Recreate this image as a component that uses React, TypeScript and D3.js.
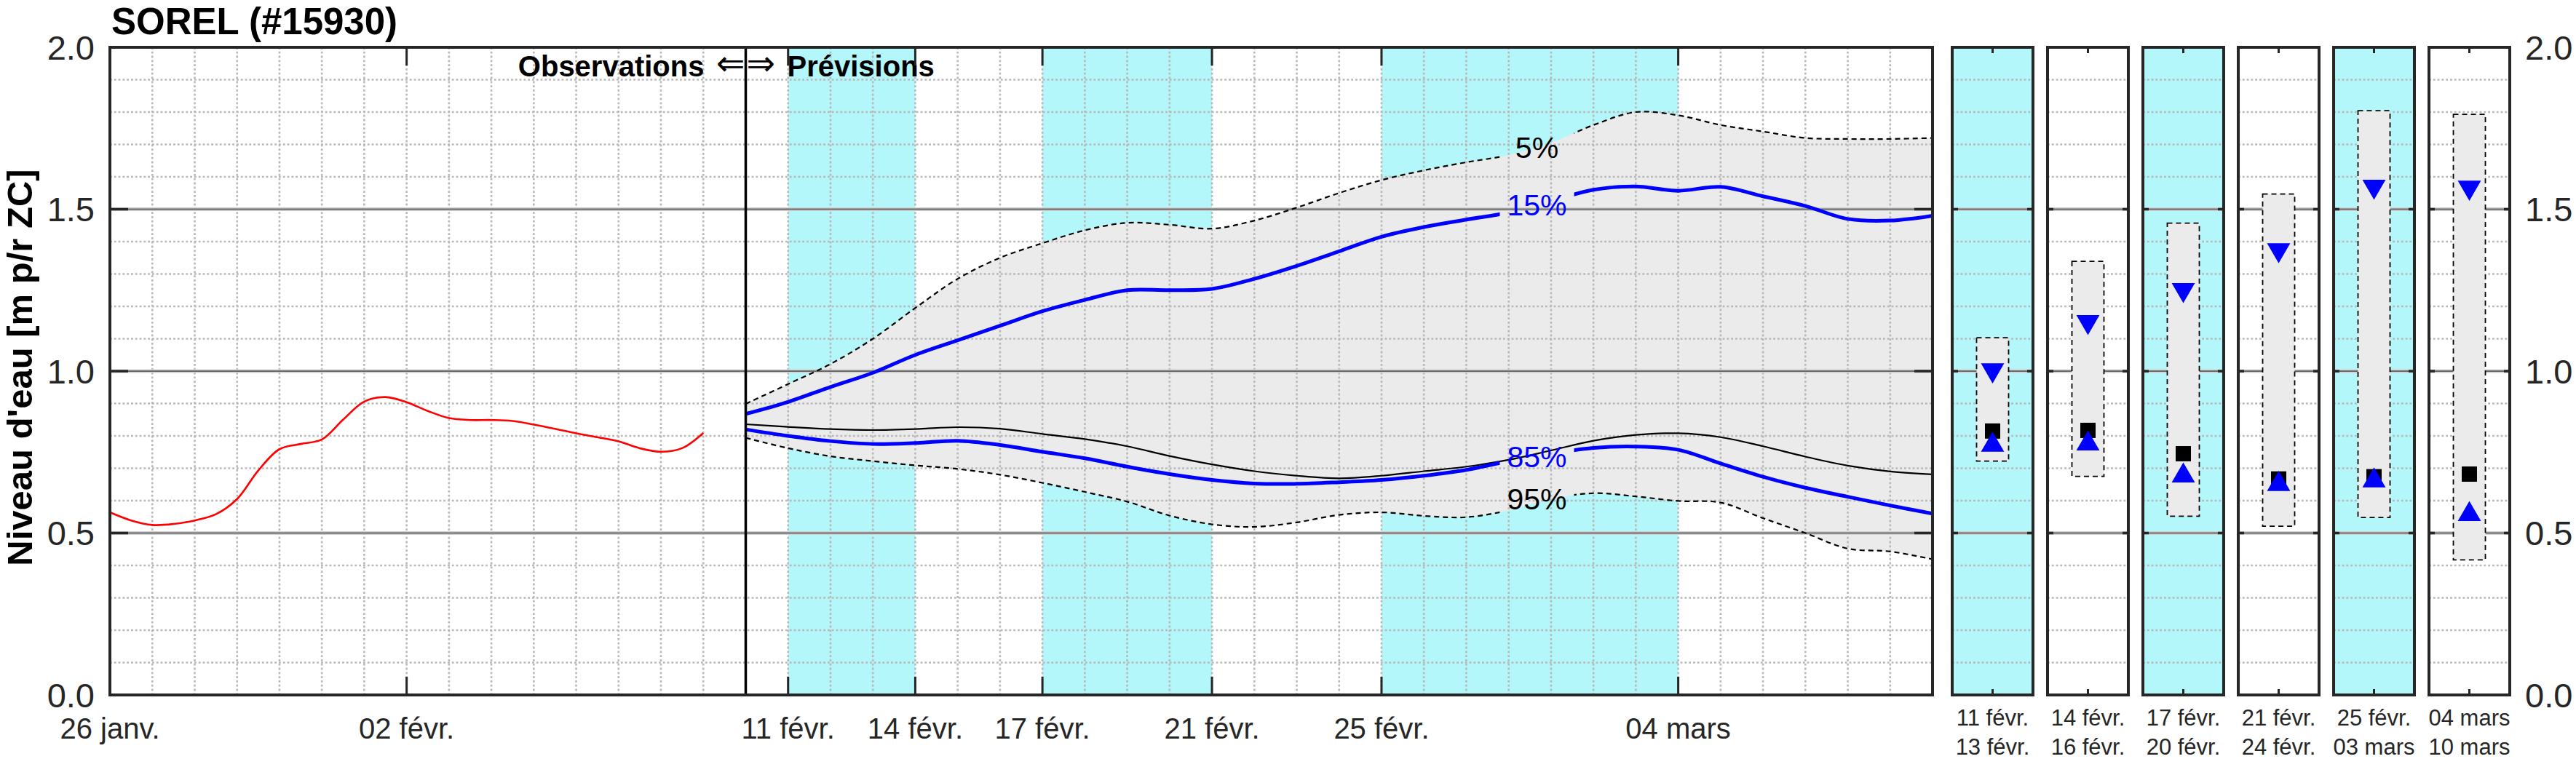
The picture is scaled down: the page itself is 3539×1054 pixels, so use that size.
import React from "react";
import * as d3 from "d3";

// ── Data ──────────────────────────────────────────────────────────────────────

const TITLE = "SOREL (#15930)";
const Y_LABEL = "Niveau d'eau [m p/r ZC]";

const utc = (m: number, d: number, h = 0) => new Date(Date.UTC(2026, m - 1, d, h));

const X_START = utc(1, 26);
const X_END = utc(3, 10);
const SPLIT_DATE = utc(2, 10);

// observed level, one value every 12 h from 26 janv. 00h
const OBS_START = utc(1, 26);
const obsLevels = [
  0.564, 0.539, 0.525, 0.528, 0.539, 0.558, 0.605, 0.693, 0.759, 0.775,
  0.789, 0.85, 0.906, 0.92, 0.904, 0.877, 0.855, 0.849, 0.849, 0.846,
  0.835, 0.822, 0.808, 0.796, 0.783, 0.762, 0.751, 0.762, 0.809,
];

// forecast quantiles, one value per day from 10 févr.
const FC_START = utc(2, 10);
const q05 = [
  0.899, 0.96, 1.022, 1.1, 1.195, 1.285, 1.35, 1.395, 1.435, 1.458, 1.452, 1.44,
  1.465, 1.505, 1.55, 1.59, 1.62, 1.645, 1.667, 1.705, 1.76, 1.8, 1.79, 1.76,
  1.74, 1.72, 1.717, 1.717, 1.72,
];
const q15 = [
  0.868, 0.905, 0.951, 0.995, 1.05, 1.095, 1.14, 1.185, 1.22, 1.25, 1.25, 1.254,
  1.285, 1.325, 1.37, 1.415, 1.445, 1.468, 1.49, 1.525, 1.56, 1.57, 1.557,
  1.569, 1.54, 1.51, 1.47, 1.465, 1.48,
];
const q50 = [
  0.836, 0.828, 0.821, 0.818, 0.821, 0.827, 0.822, 0.806, 0.79, 0.768, 0.738,
  0.712, 0.691, 0.677, 0.669, 0.677, 0.691, 0.705, 0.726, 0.755, 0.785, 0.803,
  0.808, 0.796, 0.768, 0.736, 0.708, 0.69, 0.681,
];
const q85 = [
  0.82, 0.8, 0.784, 0.775, 0.778, 0.785, 0.772, 0.751, 0.731, 0.705, 0.682,
  0.664, 0.653, 0.652, 0.657, 0.664, 0.677, 0.695, 0.722, 0.745, 0.763, 0.767,
  0.757, 0.715, 0.674, 0.64, 0.612, 0.585, 0.56,
];
const q95 = [
  0.794, 0.762, 0.737, 0.722, 0.709, 0.698, 0.68, 0.655, 0.627, 0.597, 0.554,
  0.527, 0.519, 0.533, 0.556, 0.564, 0.553, 0.549, 0.57, 0.605, 0.623, 0.613,
  0.599, 0.594, 0.546, 0.5, 0.452, 0.443, 0.419,
];

const CURVE_LABEL_DATE = utc(2, 28, 16);

// shaded forecast periods (start, end)
const shadedStarts = [utc(2, 11), utc(2, 17), utc(2, 25)];
const shadedEnds = [utc(2, 14), utc(2, 21), utc(3, 4)];

const xTickDates = [
  utc(1, 26), utc(2, 2), utc(2, 11), utc(2, 14),
  utc(2, 17), utc(2, 21), utc(2, 25), utc(3, 4),
];
const xTickLabels = [
  "26 janv.", "02 févr.", "11 févr.", "14 févr.",
  "17 févr.", "21 févr.", "25 févr.", "04 mars",
];

const yTicks = [0, 0.5, 1, 1.5, 2];
const yTickLabels = ["0.0", "0.5", "1.0", "1.5", "2.0"];

// period summary panels
const periodStart = ["11 févr.", "14 févr.", "17 févr.", "21 févr.", "25 févr.", "04 mars"];
const periodEnd = ["13 févr.", "16 févr.", "20 févr.", "24 févr.", "03 mars", "10 mars"];
const periodShaded = [true, false, true, false, true, false];
const periodHigh = [1.103, 1.339, 1.457, 1.547, 1.804, 1.793];
const periodLow = [0.722, 0.675, 0.552, 0.521, 0.548, 0.417];
const period15 = [0.993, 1.142, 1.241, 1.364, 1.56, 1.557];
const period50 = [0.815, 0.817, 0.745, 0.667, 0.674, 0.682];
const period85 = [0.782, 0.786, 0.687, 0.661, 0.672, 0.568];

// ── Style ─────────────────────────────────────────────────────────────────────

const FONT = "'Liberation Sans', Arial, Helvetica, sans-serif";
const AXIS = "#262626";
const CYAN = "#b3f7fa";
const BAND = "#ebebeb";
const BLUE = "#0000ff";
const DOTS = "#b8b8b8";

const W = 3539;
const H = 1054;
const MAIN = { left: 151, right: 2655, top: 65, bottom: 955 };
const PANELS = { left: 2682, right: 3448 };

// ── Chart ─────────────────────────────────────────────────────────────────────

export default function App() {
  const x = d3.scaleUtc().domain([X_START, X_END]).range([MAIN.left, MAIN.right]);
  const y = d3.scaleLinear().domain([0, 2]).range([MAIN.bottom, MAIN.top]);

  const obsDates = obsLevels.map((_, i) => d3.utcHour.offset(OBS_START, i * 12));
  const fcDates = q05.map((_, i) => d3.utcDay.offset(FC_START, i));

  const curve = d3.curveCatmullRom.alpha(0.5);
  const line = d3
    .line<number>()
    .x((_, i) => x(fcDates[i]))
    .y((d) => y(d))
    .curve(curve);
  const obsLine = d3
    .line<number>()
    .x((_, i) => x(obsDates[i]))
    .y((d) => y(d))
    .curve(curve);
  const band = d3
    .area<number>()
    .x((_, i) => x(fcDates[i]))
    .y0((_, i) => y(q95[i]))
    .y1((d) => y(d))
    .curve(curve);

  const minorY = d3.range(1, 20).map((i) => i / 10).filter((v) => Math.round(v * 10) % 5 !== 0);
  const majorY = [0.5, 1, 1.5];
  const days = d3.utcDay.range(d3.utcDay.offset(X_START, 1), X_END);

  // label position on each quantile curve
  const tLabel = (+CURVE_LABEL_DATE - +FC_START) / 864e5;
  const valueAt = (arr: number[]) => {
    const i = Math.floor(tLabel);
    return arr[i] + (arr[i + 1] - arr[i]) * (tLabel - i);
  };
  const lx = x(CURVE_LABEL_DATE);
  const curveLabels = [
    { text: "5%", v: valueAt(q05), color: "#000" },
    { text: "15%", v: valueAt(q15), color: BLUE },
    { text: "85%", v: valueAt(q85), color: BLUE },
    { text: "95%", v: valueAt(q95) + 0.012, color: "#000" },
  ];

  const px = d3
    .scaleBand<number>()
    .domain(d3.range(periodStart.length))
    .range([PANELS.left, PANELS.right])
    .paddingInner(0.153);
  const pw = px.bandwidth();

  const triSize = 440;
  const triUp = d3.symbol(d3.symbolTriangle, triSize)() as string;
  const triOff = Math.sqrt(triSize / (3 * Math.sqrt(3))) / 2; // bbox centre shift
  const square = d3.symbol(d3.symbolSquare, 21 * 21)() as string;

  const split = x(SPLIT_DATE);

  return (
    <svg
      width={W}
      height={H}
      style={{ position: "absolute", left: 0, top: 0, background: "#fff", fontFamily: FONT }}
    >
      <defs>
        <clipPath id="plot-clip">
          <rect x={MAIN.left} y={MAIN.top} width={MAIN.right - MAIN.left} height={MAIN.bottom - MAIN.top} />
        </clipPath>
        <mask id="label-gap" maskUnits="userSpaceOnUse">
          <rect x={0} y={0} width={W} height={H} fill="#fff" />
          <rect x={lx - 51} y={MAIN.top} width={102} height={MAIN.bottom - MAIN.top} fill="#000" />
        </mask>
      </defs>

      {/* title */}
      <text x={153} y={47} fontSize={51} fontWeight="bold" fill="#000">
        {TITLE}
      </text>

      {/* y axis label */}
      <text
        transform={`translate(44,${(MAIN.top + MAIN.bottom) / 2 - 5}) rotate(-90)`}
        textAnchor="middle"
        fontSize={49}
        fontWeight="bold"
        fill="#000"
      >
        {Y_LABEL}
      </text>

      {/* ── main plot ── */}
      <rect x={MAIN.left} y={MAIN.top} width={MAIN.right - MAIN.left} height={MAIN.bottom - MAIN.top} fill="#fff" />
      <g clipPath="url(#plot-clip)">
        {shadedStarts.map((s, i) => (
          <rect
            key={i}
            x={x(s)}
            y={MAIN.top}
            width={x(shadedEnds[i]) - x(s)}
            height={MAIN.bottom - MAIN.top}
            fill={CYAN}
          />
        ))}
        <path d={band(q05) ?? ""} fill={BAND} />

        {days.map((d, i) => (
          <line key={i} x1={x(d)} x2={x(d)} y1={MAIN.top} y2={MAIN.bottom} stroke={DOTS} strokeWidth={2.6} strokeDasharray="2.8 3" />
        ))}
        {minorY.map((v) => (
          <line key={v} x1={MAIN.left} x2={MAIN.right} y1={y(v)} y2={y(v)} stroke={DOTS} strokeWidth={2.6} strokeDasharray="2.8 3" />
        ))}
        {majorY.map((v) => (
          <g key={v}>
            <line x1={MAIN.left} x2={MAIN.right} y1={y(v)} y2={y(v)} stroke="#d0d0d0" strokeWidth={5} />
            <line x1={MAIN.left} x2={MAIN.right} y1={y(v)} y2={y(v)} stroke="#6a6a6a" strokeWidth={2} />
          </g>
        ))}

        {/* observations */}
        <path d={obsLine(obsLevels) ?? ""} fill="none" stroke="#ff0000" strokeWidth={2.6} />

        {/* forecast */}
        <path d={line(q50) ?? ""} fill="none" stroke="#000" strokeWidth={2.2} />
        <g mask="url(#label-gap)">
          <path d={line(q05) ?? ""} fill="none" stroke="#000" strokeWidth={2.2} strokeDasharray="7 5" />
          <path d={line(q95) ?? ""} fill="none" stroke="#000" strokeWidth={2.2} strokeDasharray="7 5" />
          <path d={line(q15) ?? ""} fill="none" stroke={BLUE} strokeWidth={5} />
          <path d={line(q85) ?? ""} fill="none" stroke={BLUE} strokeWidth={5} />
        </g>
        {curveLabels.map((l) => (
          <text key={l.text} x={lx} y={y(l.v)} dy="0.36em" textAnchor="middle" fontSize={41} fill={l.color}>
            {l.text}
          </text>
        ))}

        {/* observations / forecast split */}
        <line x1={split} x2={split} y1={MAIN.top} y2={MAIN.bottom} stroke="#000" strokeWidth={3.5} />
      </g>

      <text x={split - 57} y={105} textAnchor="end" fontSize={40} fontWeight="bold" fill="#000">
        Observations
      </text>
      <text
        x={split - 1}
        y={103}
        textAnchor="end"
        fontSize={47}
        fontFamily="'DejaVu Sans', sans-serif"
        fill="#000"
      >
        ⇐
      </text>
      <text
        x={split + 1}
        y={103}
        textAnchor="start"
        fontSize={47}
        fontFamily="'DejaVu Sans', sans-serif"
        fill="#000"
      >
        ⇒
      </text>
      <text x={split + 57} y={105} textAnchor="start" fontSize={40} fontWeight="bold" fill="#000">
        Prévisions
      </text>

      {/* main axes */}
      {xTickDates.map((d, i) => (
        <g key={i}>
          <line x1={x(d)} x2={x(d)} y1={MAIN.top} y2={MAIN.top + 25} stroke={AXIS} strokeWidth={3} />
          <line x1={x(d)} x2={x(d)} y1={MAIN.bottom} y2={MAIN.bottom - 25} stroke={AXIS} strokeWidth={3} />
          <text x={x(d)} y={1015} textAnchor="middle" fontSize={40} fill={AXIS}>
            {xTickLabels[i]}
          </text>
        </g>
      ))}
      {yTicks.map((v, i) => (
        <g key={v}>
          <line x1={MAIN.left} x2={MAIN.left + 25} y1={y(v)} y2={y(v)} stroke={AXIS} strokeWidth={3.5} />
          <line x1={MAIN.right} x2={MAIN.right - 25} y1={y(v)} y2={y(v)} stroke={AXIS} strokeWidth={3.5} />
          <text x={130} y={y(v)} dy="0.36em" textAnchor="end" fontSize={47} fill={AXIS}>
            {yTickLabels[i]}
          </text>
        </g>
      ))}
      <rect
        x={MAIN.left}
        y={MAIN.top}
        width={MAIN.right - MAIN.left}
        height={MAIN.bottom - MAIN.top}
        fill="none"
        stroke={AXIS}
        strokeWidth={4}
      />

      {/* ── period panels ── */}
      {periodStart.map((label, i) => {
        const x0 = px(i) ?? 0;
        const cx = x0 + pw / 2;
        return (
          <g key={i}>
            <rect x={x0} y={MAIN.top} width={pw} height={MAIN.bottom - MAIN.top} fill={periodShaded[i] ? CYAN : "#fff"} />
            {minorY.map((v) => (
              <line key={v} x1={x0} x2={x0 + pw} y1={y(v)} y2={y(v)} stroke={DOTS} strokeWidth={2.6} strokeDasharray="2.8 3" />
            ))}
            {majorY.map((v) => (
              <g key={v}>
                <line x1={x0} x2={x0 + pw} y1={y(v)} y2={y(v)} stroke="#d0d0d0" strokeWidth={5} />
                <line x1={x0} x2={x0 + pw} y1={y(v)} y2={y(v)} stroke="#6a6a6a" strokeWidth={2} />
                <line x1={x0} x2={x0 + 8} y1={y(v)} y2={y(v)} stroke={AXIS} strokeWidth={3.5} />
                <line x1={x0 + pw - 8} x2={x0 + pw} y1={y(v)} y2={y(v)} stroke={AXIS} strokeWidth={3.5} />
              </g>
            ))}
            <rect
              x={cx - 22}
              y={y(periodHigh[i])}
              width={44}
              height={y(periodLow[i]) - y(periodHigh[i])}
              fill={BAND}
              stroke="#000"
              strokeWidth={1.8}
              strokeDasharray="7 5"
            />
            <path d={triUp} transform={`translate(${cx},${y(period15[i]) - triOff}) rotate(180)`} fill={BLUE} />
            <path d={square} transform={`translate(${cx},${y(period50[i])})`} fill="#000" />
            <path d={triUp} transform={`translate(${cx},${y(period85[i]) + triOff})`} fill={BLUE} />

            <line x1={cx} x2={cx} y1={MAIN.top} y2={MAIN.top + 8} stroke={AXIS} strokeWidth={3} />
            <line x1={cx} x2={cx} y1={MAIN.bottom} y2={MAIN.bottom - 8} stroke={AXIS} strokeWidth={3} />
            <rect x={x0} y={MAIN.top} width={pw} height={MAIN.bottom - MAIN.top} fill="none" stroke={AXIS} strokeWidth={4} />

            <text x={cx} y={997} textAnchor="middle" fontSize={31} fill={AXIS}>
              {label}
            </text>
            <text x={cx} y={1037} textAnchor="middle" fontSize={31} fill={AXIS}>
              {periodEnd[i]}
            </text>
          </g>
        );
      })}
      {yTicks.map((v, i) => (
        <text key={v} x={PANELS.right + 21} y={y(v)} dy="0.36em" textAnchor="start" fontSize={47} fill={AXIS}>
          {yTickLabels[i]}
        </text>
      ))}
    </svg>
  );
}
